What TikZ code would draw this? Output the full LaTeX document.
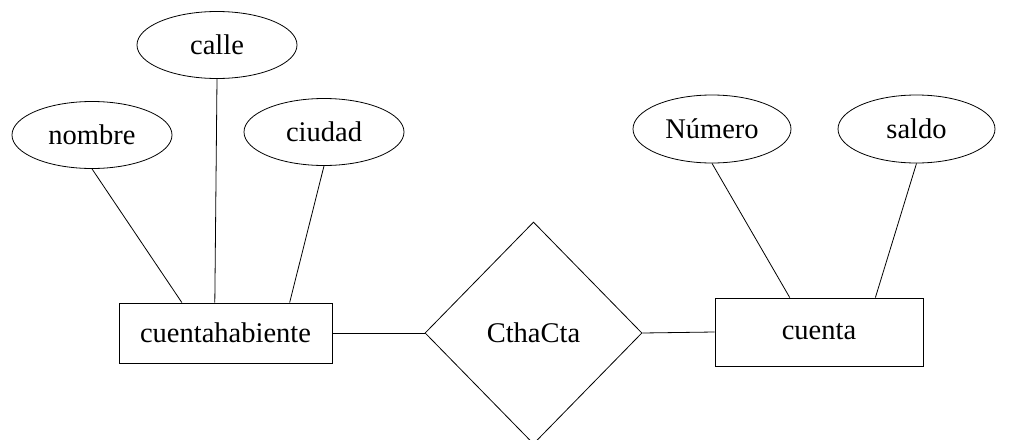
\documentclass[tikz,border=0pt]{standalone}
\usepackage{fontspec}
\setmainfont{Liberation Serif}
\usepackage{tikz}
\usetikzlibrary{positioning,shapes.geometric,calc}

\begin{document}
\begin{tikzpicture}[x=1pt,y=-1pt,
    attrib/.style={draw, ellipse, inner sep=0pt, minimum width=160pt, minimum height=67pt},
    entity/.style={draw, rectangle, inner sep=0pt},
    relation/.style={draw, diamond, inner sep=0pt, minimum width=217pt, minimum height=222pt},
    every node/.style={font=\fontsize{28.5}{34}\selectfont},
    every path/.style={line width=0.8pt}]
    \useasboundingbox (0,0) rectangle (1017,439);

    % Define entities
    \node[entity, minimum width=213pt, minimum height=60pt] (cuentahabiente) at (225.5,333) {cuentahabiente};
    \node[entity, minimum width=208pt, minimum height=68pt] (cuenta) at (819,332) {cuenta};

    % Relationship
    \node[relation] (ctha) at (533.5,333) {CthaCta};

    % Attributes
    \node[attrib] (nombre) at (92,135) {nombre};
    \node[attrib] (calle) at (217,45) {calle};
    \node[attrib] (ciudad) at (324,132) {ciudad};
    \node[attrib, minimum width=158pt, minimum height=68pt] (numero) at (712,129) {Número};
    \node[attrib, minimum width=157pt, minimum height=68pt] (saldo) at (916.5,129) {saldo};

    % Lines
    \draw (nombre.south) -- ($(cuentahabiente.north west)!0.296!(cuentahabiente.north east)$);
    \draw (calle.south) -- ($(cuentahabiente.north west)!0.45!(cuentahabiente.north east)$);
    \draw (ciudad.south) -- ($(cuentahabiente.north west)!0.80!(cuentahabiente.north east)$);
    \draw (numero.south) -- ($(cuenta.north west)!0.36!(cuenta.north east)$);
    \draw (saldo.south) -- ($(cuenta.north west)!0.77!(cuenta.north east)$);
    \draw (cuentahabiente.east) -- (ctha.west);
    \draw (ctha.east) -- (cuenta.west);
\end{tikzpicture}
\end{document}
